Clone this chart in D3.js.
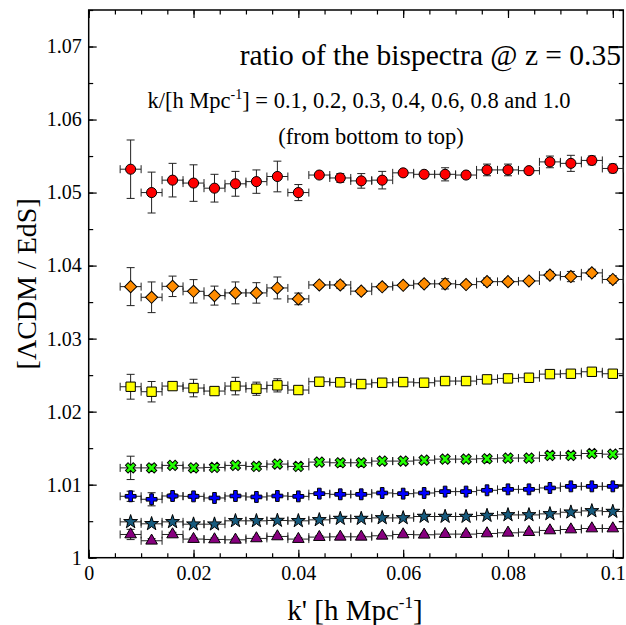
<!DOCTYPE html>
<html>
<head>
<meta charset="utf-8">
<script src="https://cdn.jsdelivr.net/npm/d3@7"></script>
<style>
  html, body { margin: 0; padding: 0; background: #fff; }
  svg { display: block; }
  text { font-family: "Liberation Serif", "Times New Roman", serif; fill: #000; }
</style>
</head>
<body>
<svg id="chart" width="626" height="625"></svg>
<script>
// k' bin centres [h/Mpc]
const kPrime = [0.008, 0.012, 0.016, 0.020, 0.024, 0.028, 0.032, 0.036, 0.040, 0.044, 0.048, 0.052,
                0.056, 0.060, 0.064, 0.068, 0.072, 0.076, 0.080, 0.084, 0.088, 0.092, 0.096, 0.100];
const binHalfWidth = 0.002;

// bispectrum ratio LCDM / EdS, one array per k
const ratioK01 = [1.00318, 1.00232, 1.00318, 1.00255, 1.00250, 1.00245, 1.00264, 1.00291, 1.00255, 1.00282, 1.00286, 1.00286,
                  1.00300, 1.00318, 1.00314, 1.00323, 1.00323, 1.00332, 1.00341, 1.00350, 1.00373, 1.00386, 1.00400, 1.00400];
const errK01   = [0.0007, 0.0003, 0.0003, 0.0002, 0.0002, 0.0002, 0.0002, 0.0002, 0.0002, 0.0002, 0.0002, 0.0002,
                  0.0002, 0.0002, 0.0002, 0.0002, 0.0002, 0.0002, 0.0002, 0.0002, 0.0002, 0.0002, 0.0002, 0.0002];

const ratioK02 = [1.00491, 1.00464, 1.00491, 1.00459, 1.00459, 1.00505, 1.00505, 1.00509, 1.00505, 1.00518, 1.00536, 1.00536,
                  1.00545, 1.00545, 1.00564, 1.00564, 1.00564, 1.00577, 1.00586, 1.00586, 1.00600, 1.00623, 1.00641, 1.00632];
const errK02   = [0.0003, 0.0003, 0.0002, 0.0002, 0.0002, 0.0002, 0.0002, 0.0002, 0.0002, 0.0002, 0.0002, 0.0002,
                  0.0002, 0.0002, 0.0002, 0.0002, 0.0002, 0.0002, 0.0002, 0.0002, 0.0002, 0.0002, 0.0002, 0.0002];

const ratioK03 = [1.00841, 1.00800, 1.00845, 1.00840, 1.00818, 1.00845, 1.00832, 1.00845, 1.00840, 1.00877, 1.00868, 1.00868,
                  1.00886, 1.00877, 1.00886, 1.00905, 1.00905, 1.00923, 1.00936, 1.00936, 1.00955, 1.00977, 1.00977, 1.00977];
const errK03   = [0.0007, 0.0009, 0.0003, 0.0003, 0.0002, 0.0002, 0.0002, 0.0002, 0.0002, 0.0002, 0.0002, 0.0002,
                  0.0002, 0.0002, 0.0002, 0.0002, 0.0002, 0.0002, 0.0002, 0.0002, 0.0002, 0.0002, 0.0002, 0.0002];

const ratioK04 = [1.01230, 1.01230, 1.01264, 1.01230, 1.01236, 1.01264, 1.01250, 1.01282, 1.01250, 1.01309, 1.01300, 1.01300,
                  1.01323, 1.01323, 1.01336, 1.01350, 1.01350, 1.01355, 1.01364, 1.01364, 1.01400, 1.01400, 1.01427, 1.01418];
const errK04   = [0.0016, 0.0005, 0.0003, 0.0003, 0.0002, 0.0003, 0.0002, 0.0002, 0.0002, 0.0002, 0.0002, 0.0002,
                  0.0002, 0.0002, 0.0002, 0.0002, 0.0002, 0.0002, 0.0002, 0.0002, 0.0002, 0.0002, 0.0002, 0.0002];

const ratioK06 = [1.02341, 1.02273, 1.02350, 1.02323, 1.02282, 1.02350, 1.02314, 1.02360, 1.02296, 1.02410, 1.02401, 1.02378,
                  1.02396, 1.02405, 1.02396, 1.02419, 1.02419, 1.02442, 1.02455, 1.02464, 1.02514, 1.02519, 1.02546, 1.02519];
const errK06   = [0.0017, 0.0014, 0.0004, 0.0012, 0.0004, 0.0012, 0.0009, 0.0009, 0.0004, 0.0003, 0.0003, 0.0003,
                  0.0003, 0.0003, 0.0003, 0.0003, 0.0003, 0.0003, 0.0003, 0.0003, 0.0003, 0.0003, 0.0003, 0.0003];

const ratioK08 = [1.03712, 1.03566, 1.03716, 1.03648, 1.03589, 1.03626, 1.03626, 1.03694, 1.03544, 1.03735, 1.03735, 1.03650,
                  1.03710, 1.03730, 1.03750, 1.03750, 1.03740, 1.03780, 1.03780, 1.03790, 1.03870, 1.03850, 1.03900, 1.03810];
const errK08   = [0.0026, 0.0021, 0.0014, 0.0016, 0.0013, 0.0015, 0.0014, 0.0015, 0.0008, 0.0003, 0.0005, 0.0004,
                  0.0004, 0.0003, 0.0004, 0.0007, 0.0003, 0.0005, 0.0004, 0.0003, 0.0005, 0.0007, 0.0005, 0.0005];

const ratioK10 = [1.05320, 1.05000, 1.05170, 1.05130, 1.05060, 1.05120, 1.05150, 1.05220, 1.05000, 1.05240, 1.05200, 1.05160,
                  1.05170, 1.05270, 1.05250, 1.05250, 1.05240, 1.05310, 1.05310, 1.05300, 1.05420, 1.05400, 1.05440, 1.05330];
const errK10   = [0.0040, 0.0028, 0.0023, 0.0025, 0.0019, 0.0017, 0.0016, 0.0021, 0.0011, 0.0003, 0.0006, 0.0010,
                  0.0012, 0.0003, 0.0003, 0.0009, 0.0003, 0.0008, 0.0008, 0.0003, 0.0008, 0.0011, 0.0006, 0.0006];

// tick values
const xMajorTicks = [0, 0.02, 0.04, 0.06, 0.08, 0.1];
const xMinorTicks = d3.range(0, 0.1001, 0.005);
const yMajorTicks = [1, 1.01, 1.02, 1.03, 1.04, 1.05, 1.06, 1.07];
const yMinorTicks = d3.range(1, 1.0751, 0.005);

const series = [
  { values: ratioK01, errors: errK01, symbol: d3.symbolTriangle, size: 58, rotate: 0,  fill: "#87007f" },
  { values: ratioK02, errors: errK02, symbol: d3.symbolStar,     size: 60, rotate: 0,  fill: "#175b7e" },
  { values: ratioK03, errors: errK03, symbol: d3.symbolCross,    size: 66, rotate: 0,  fill: "#0000ff" },
  { values: ratioK04, errors: errK04, symbol: d3.symbolCross,    size: 66, rotate: 45, fill: "#22ff00" },
  { values: ratioK06, errors: errK06, symbol: d3.symbolSquare,   size: 88, rotate: 0,  fill: "#ffff00" },
  { values: ratioK08, errors: errK08, symbol: d3.symbolSquare,   size: 74, rotate: 45, fill: "#ff8c00" },
  { values: ratioK10, errors: errK10, symbol: d3.symbolCircle,   size: 80, rotate: 0,  fill: "#ff0000" }
];

const svg = d3.select("#chart");
const plotLeft = 88.7, plotRight = 623.3, plotTop = 10, plotBottom = 557.7;

const x = d3.scaleLinear().domain([0, 0.102]).range([plotLeft, plotRight]);
const y = d3.scaleLinear().domain([1, 1.075]).range([plotBottom, plotTop]);

const fmtX = v => v === 0 ? "0" : String(+v.toFixed(3));
const fmtY = v => v === 1 ? "1" : v.toFixed(2);

function styleAxis(g) {
  g.select(".domain").remove();
  g.selectAll(".tick line").attr("stroke", "#000").attr("stroke-width", 1.2);
}

// minor ticks on all four sides
svg.append("g").attr("transform", `translate(0,${plotBottom})`)
  .call(d3.axisBottom(x).tickValues(xMinorTicks).tickSize(-4.5).tickFormat(""))
  .call(styleAxis);
svg.append("g").attr("transform", `translate(0,${plotTop})`)
  .call(d3.axisTop(x).tickValues(xMinorTicks).tickSize(-4.5).tickFormat(""))
  .call(styleAxis);
svg.append("g").attr("transform", `translate(${plotLeft},0)`)
  .call(d3.axisLeft(y).tickValues(yMinorTicks).tickSize(-4.5).tickFormat(""))
  .call(styleAxis);
svg.append("g").attr("transform", `translate(${plotRight},0)`)
  .call(d3.axisRight(y).tickValues(yMinorTicks).tickSize(-4.5).tickFormat(""))
  .call(styleAxis);

// major ticks with labels
const xAxis = svg.append("g").attr("transform", `translate(0,${plotBottom})`)
  .call(d3.axisBottom(x).tickValues(xMajorTicks).tickSize(-8).tickPadding(8).tickFormat(fmtX))
  .call(styleAxis);
xAxis.selectAll("text").attr("font-size", 20).attr("fill", "#000");

svg.append("g").attr("transform", `translate(0,${plotTop})`)
  .call(d3.axisTop(x).tickValues(xMajorTicks).tickSize(-8).tickFormat(""))
  .call(styleAxis);

const yAxis = svg.append("g").attr("transform", `translate(${plotLeft},0)`)
  .call(d3.axisLeft(y).tickValues(yMajorTicks).tickSize(-8).tickPadding(7).tickFormat(fmtY))
  .call(styleAxis);
yAxis.selectAll("text").attr("font-size", 20).attr("fill", "#000");

svg.append("g").attr("transform", `translate(${plotRight},0)`)
  .call(d3.axisRight(y).tickValues(yMajorTicks).tickSize(-8).tickFormat(""))
  .call(styleAxis);

// frame
svg.append("rect")
  .attr("x", plotLeft).attr("y", plotTop)
  .attr("width", plotRight - plotLeft).attr("height", plotBottom - plotTop)
  .attr("fill", "none").attr("stroke", "#000").attr("stroke-width", 1.5);

// data with error bars
const capHalf = 4;
const plot = svg.append("g");
series.forEach(s => {
  const pts = kPrime.map((k, i) => ({ k, v: s.values[i], e: s.errors[i] }));
  const eb = plot.append("g").attr("stroke", "#222").attr("stroke-width", 1).attr("fill", "none");
  pts.forEach(p => {
    const cx = x(p.k), cy = y(p.v);
    const x0 = x(p.k - binHalfWidth), x1 = x(p.k + binHalfWidth);
    const y0 = y(p.v - p.e), y1 = y(p.v + p.e);
    const path = d3.path();
    // horizontal bar with end caps
    path.moveTo(x0, cy); path.lineTo(x1, cy);
    path.moveTo(x0, cy - capHalf); path.lineTo(x0, cy + capHalf);
    path.moveTo(x1, cy - capHalf); path.lineTo(x1, cy + capHalf);
    // vertical bar with end caps
    path.moveTo(cx, y0); path.lineTo(cx, y1);
    path.moveTo(cx - capHalf, y0); path.lineTo(cx + capHalf, y0);
    path.moveTo(cx - capHalf, y1); path.lineTo(cx + capHalf, y1);
    eb.append("path").attr("d", path.toString());
  });
  const sym = d3.symbol().type(s.symbol).size(s.size);
  plot.append("g").selectAll("path").data(pts).join("path")
    .attr("d", sym)
    .attr("transform", d => `translate(${x(d.k)},${y(d.v)}) rotate(${s.rotate})`)
    .attr("fill", s.fill)
    .attr("stroke", "#000")
    .attr("stroke-width", 1);
});

// annotations
svg.append("text")
  .attr("x", 621).attr("y", 65)
  .attr("text-anchor", "end").attr("font-size", 29.5)
  .text("ratio of the bispectra @ z = 0.35");

const line2 = svg.append("text")
  .attr("x", 359).attr("y", 108)
  .attr("text-anchor", "middle").attr("font-size", 22.5);
line2.append("tspan").text("k/[h Mpc");
line2.append("tspan").attr("dy", -9).attr("font-size", 14).text("-1");
line2.append("tspan").attr("dy", 9).text("] = 0.1, 0.2, 0.3, 0.4, 0.6, 0.8 and 1.0");

svg.append("text")
  .attr("x", 371).attr("y", 144)
  .attr("text-anchor", "middle").attr("font-size", 22.5)
  .text("(from bottom to top)");

// axis titles
const xt = svg.append("text")
  .attr("x", 355).attr("y", 620)
  .attr("text-anchor", "middle").attr("font-size", 29);
xt.append("tspan").text("k' [h Mpc");
xt.append("tspan").attr("dy", -12).attr("font-size", 17).text("-1");
xt.append("tspan").attr("dy", 12).text("]");

svg.append("text")
  .attr("transform", `translate(36,${(plotTop + plotBottom) / 2}) rotate(-90)`)
  .attr("text-anchor", "middle").attr("font-size", 28)
  .text("[\u039BCDM / EdS]");
</script>
</body>
</html>
